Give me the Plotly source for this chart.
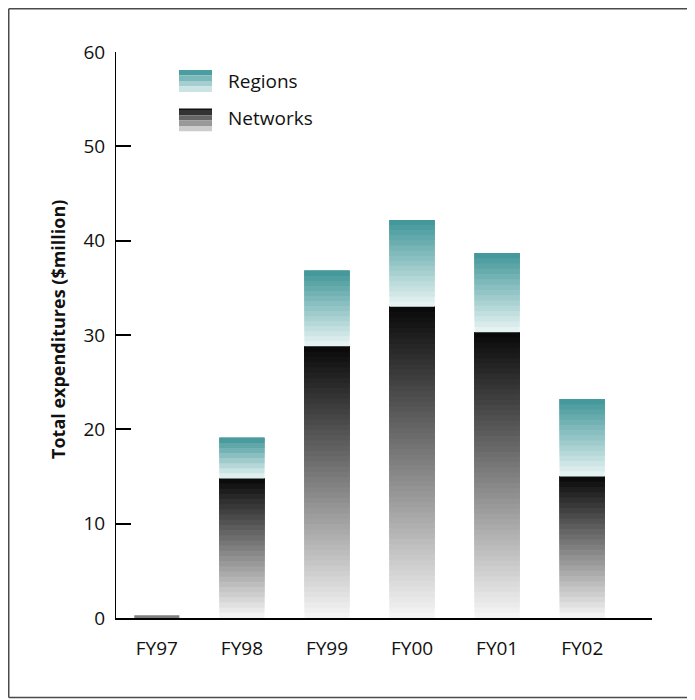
import math
import plotly.graph_objects as go

# ---- data ----
years = ["FY97", "FY98", "FY99", "FY00", "FY01", "FY02"]
networks = [0.3, 14.8, 28.8, 33.0, 30.3, 15.0]
regions = [0.0, 4.3, 8.0, 9.2, 8.4, 8.2]
y_ticks = [0, 10, 20, 30, 40, 50, 60]
legend_labels = ["Regions", "Networks"]
y_title = "Total expenditures ($million)"

# ---- style ----
FONT = "Open Sans"
OFF = 8  # page body margin
W, H = 695 - OFF, 700 - OFF
# plot area in page pixels
L, R, T, B = 116, 652, 52, 618
BAND = 0.56  # height of one gradient band (data units)
BAR_W = 0.53

NET_TOP = (8, 8, 8)
NET_BOT = (246, 246, 246)
REG_TOP = (63, 149, 152)
REG_BOT = (234, 245, 244)


def mix(c0, c1, t):
    return "rgb(%d,%d,%d)" % tuple(round(a + (b - a) * t) for a, b in zip(c0, c1))


def px(x):
    return (x - L) / (R - L)


def py(y):
    return (B - y) / (B - T)


fig = go.Figure()


def add_gradient(lows, highs, ctop, cbot):
    counts = []
    for lo, hi in zip(lows, highs):
        h = hi - lo
        counts.append(0 if h <= 0 else max(1, math.ceil(h / BAND - 1e-9)))
    # draw from the lightest (bottom) band up; each band reaches the segment top
    for k in reversed(range(max(counts))):
        bases, heights, colors = [], [], []
        for lo, hi, n in zip(lows, highs, counts):
            if k < n:
                step = (hi - lo) / n
                bot = hi - (k + 1) * step
                bases.append(bot)
                heights.append(hi - bot)
                colors.append(mix(ctop, cbot, (k + 0.5) / n))
            else:
                bases.append(0)
                heights.append(0)
                colors.append("rgba(0,0,0,0)")
        fig.add_trace(go.Bar(
            x=years, y=heights, base=bases, width=BAR_W,
            marker=dict(color=colors, line=dict(width=0)),
            showlegend=False, hoverinfo="skip",
        ))


totals = [n + r for n, r in zip(networks, regions)]
add_gradient([0] * len(networks), networks, NET_TOP, NET_BOT)
add_gradient(networks, totals, REG_TOP, REG_BOT)

shapes = []
# outer frame (kept inside the figure canvas)
frame = dict(color="#4a4a4a", width=1.5)
for x0, x1, y0_, y1_ in [
    (8.75, 8.75, 8.75, 697.5),      # left
    (690.5, 690.5, 8.75, 697.5),    # right
    (8.75, 690.5, 8.75, 8.75),      # top
    (8.75, 690.5, 697.5, 697.5),    # bottom
]:
    shapes.append(dict(type="line", xref="paper", yref="paper",
                       x0=px(x0), x1=px(x1), y0=py(y0_), y1=py(y1_),
                       line=frame, layer="below"))

# legend swatches
reg_sw = ["#4a9ea1", "#7db9bb", "#a4cecf", "#cbe3e3"]
net_sw = ["#333333", "#666666", "#999999", "#cccccc"]
y0 = 70
for c in reg_sw:
    shapes.append(dict(type="rect", xref="paper", yref="paper",
                       x0=px(179), x1=px(212), y0=py(y0 + 5.5), y1=py(y0),
                       fillcolor=c, line=dict(width=0)))
    y0 += 5.5
shapes.append(dict(type="rect", xref="paper", yref="paper",
                   x0=px(179), x1=px(212), y0=py(110), y1=py(108.5),
                   fillcolor="#111111", line=dict(width=0)))
y0 = 110
for c in net_sw:
    shapes.append(dict(type="rect", xref="paper", yref="paper",
                       x0=px(179), x1=px(212), y0=py(y0 + 5.3), y1=py(y0),
                       fillcolor=c, line=dict(width=0)))
    y0 += 5.3

annotations = [
    dict(text=legend_labels[0], xref="paper", yref="paper", x=px(226), y=py(81),
         xanchor="left", yanchor="middle", showarrow=False,
         font=dict(family=FONT, size=19, color="#111")),
    dict(text=legend_labels[1], xref="paper", yref="paper", x=px(226), y=py(118),
         xanchor="left", yanchor="middle", showarrow=False,
         font=dict(family=FONT, size=19, color="#111")),
    dict(text="<b>" + y_title + "</b>", xref="paper", yref="paper", x=px(58), y=py(330),
         xanchor="center", yanchor="middle", textangle=-90, showarrow=False,
         font=dict(family=FONT, size=18, color="#111")),
]

fig.update_layout(
    width=W, height=H,
    margin=dict(l=L - OFF, r=W - (R - OFF), t=T - OFF, b=H - (B - OFF), pad=0),
    barmode="overlay",
    plot_bgcolor="white", paper_bgcolor="white",
    font=dict(family=FONT, size=19, color="#111"),
    shapes=shapes, annotations=annotations,
    showlegend=False,
)
fig.update_xaxes(
    type="category", range=[-0.48, 5.82],
    showline=True, linecolor="black", linewidth=2,
    showgrid=False, zeroline=False, ticks="",
    ticklabelstandoff=12,
)
fig.update_yaxes(
    range=[0, 60], tickvals=y_ticks,
    showline=True, linecolor="black", linewidth=1,
    ticks="inside", ticklen=15, tickwidth=1.5, tickcolor="black",
    showgrid=False, zeroline=False, ticklabelstandoff=6,
)

fig.write_html("out.html")
